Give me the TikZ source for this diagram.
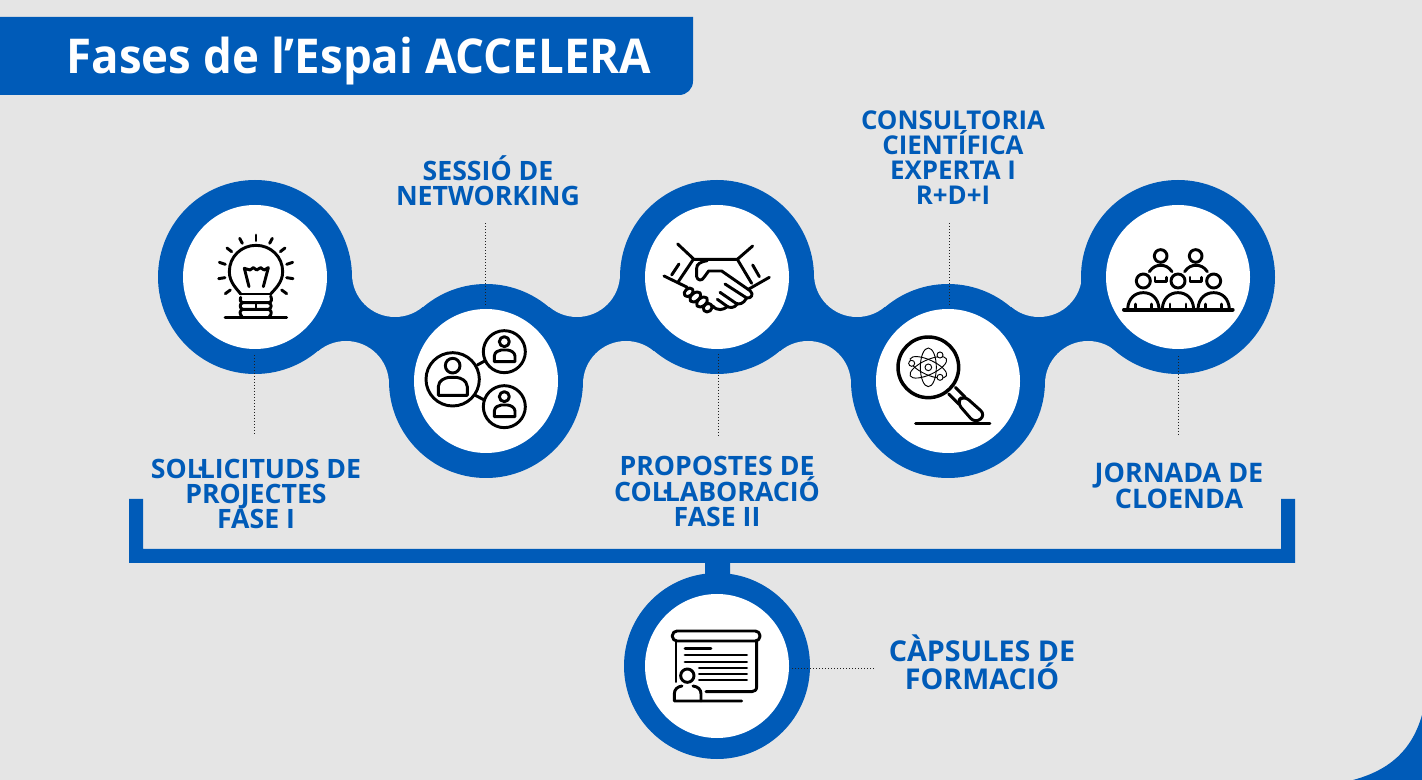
\documentclass[tikz,border=0pt]{standalone}
\usepackage{fontspec}
\setmainfont{Open Sans}
\newfontfamily\titlefont[FakeStretch=0.95]{Open Sans}
\newcommand{\ldot}{\kern-.18em·\kern-.18em}
\definecolor{brand}{HTML}{005BB8}
\definecolor{pagegray}{HTML}{E5E5E5}
\definecolor{dotgray}{HTML}{202020}
\tikzset{
  px/.style={x=0.75pt,y=-0.75pt},
  disc/.style={circle,fill=brand,inner sep=0pt,minimum size=145.5pt},
  smalldisc/.style={circle,fill=brand,inner sep=0pt,minimum size=139.5pt},
  hole/.style={circle,fill=white,inner sep=0pt,minimum size=108pt},
  notch/.style={circle,fill=pagegray,inner sep=0pt,minimum size=64.5pt},
  label/.style={text=brand,align=center,inner sep=0pt,font=\fontsize{#1}{18.75}\selectfont\bfseries},
  dotline/.style={draw=dotgray,line width=0.75pt,dash pattern=on 0.75pt off 1.5pt},
  zoomed/.style={x=0.25pt,y=-0.25pt},
  ic/.style={draw=black,line width=2.2pt,line cap=round,line join=round},
  icthin/.style={draw=black,line width=0.7pt},
}
\begin{document}
\begin{tikzpicture}[px]
\useasboundingbox (0,0) rectangle (1422,780);
\fill[pagegray] (0,0) rectangle (1422,780);
% corner
\fill[brand] (1353,780) .. controls (1390,770) and (1412,750) .. (1422,715) -- (1422,780) -- cycle;
% banner
\fill[brand] (0,17) -- (693,17) -- (693,81) .. controls (693,89) and (687,95) .. (679,95) -- (0,95) -- cycle;
\node[anchor=base,text=white,inner sep=0pt,font=\titlefont\fontsize{36}{40}\selectfont\bfseries] (title) at (359,74) {Fases de l’Espai ACCELERA};
% centres
\coordinate (p1) at (255,277);
\coordinate (p2) at (486,381);
\coordinate (p3) at (717,277);
\coordinate (p4) at (948,381);
\coordinate (p5) at (1178,277);
\coordinate (n1) at (395,274); \coordinate (m1) at (346,384);
\coordinate (n2) at (577,274); \coordinate (m2) at (626,384);
\coordinate (n3) at (857,274); \coordinate (m3) at (808,384);
\coordinate (n4) at (1039,274); \coordinate (m4) at (1088,384);
% necks
\fill[brand] (p1) -- (n1) -- (p2) -- (m1) -- cycle;
\fill[brand] (p2) -- (n2) -- (p3) -- (m2) -- cycle;
\fill[brand] (p3) -- (n3) -- (p4) -- (m3) -- cycle;
\fill[brand] (p4) -- (n4) -- (p5) -- (m4) -- cycle;
\foreach \q in {n1,m1,n2,m2,n3,m3,n4,m4} \node[notch] at (\q) {};
% bracket
\fill[brand] (129,499) -- (143,499) -- (143,549) -- (1281,549) -- (1281,499) -- (1295,499) -- (1295,563) -- (730,563) -- (730,580) -- (705,580) -- (705,563) -- (129,563) -- cycle;
% discs
\node[disc] (d1) at (p1) {};
\node[disc] (d2) at (p2) {};
\node[disc] (d3) at (p3) {};
\node[disc] (d4) at (p4) {};
\node[disc] (d5) at (p5) {};
\node[smalldisc] (d6) at (717,666) {};
\node[hole] (h1) at (p1) {};
\node[hole] (h2) at (p2) {};
\node[hole] (h3) at (p3) {};
\node[hole] (h4) at (p4) {};
\node[hole] (h5) at (p5) {};
\node[hole] (h6) at (717,666) {};
% labels
\node[label=20] (l1) at (256,494) {SOL\ldot LICITUDS DE\\PROJECTES\\FASE I};
\node[label=20] (l2) at (488,181) {SESSIÓ DE\\NETWORKING};
\node[label=20] (l3) at (717,491.5) {PROPOSTES DE\\COL\ldot LABORACIÓ\\FASE II};
\node[label=19.4] (l4) at (953,158) {CONSULTORIA\\CIENTÍFICA\\EXPERTA I\\R+D+I};
\node[label=20.2] (l5) at (1179,486) {JORNADA DE\\CLOENDA};
\node[label=21.5,font=\fontsize{21.5}{19.5}\selectfont\bfseries] (l6) at (982,662) {CÀPSULES DE\\FORMACIÓ};
% dotted leaders
\coordinate (a1) at (254.5,355); \coordinate (b1) at (254.5,436);
\coordinate (a2) at (485.5,305); \coordinate (b2) at (485.5,223);
\coordinate (a3) at (718,354); \coordinate (b3) at (718,436);
\coordinate (a4) at (949.5,305); \coordinate (b4) at (949.5,223);
\coordinate (a5) at (1178,356); \coordinate (b5) at (1178,437);
\coordinate (a6) at (792,668); \coordinate (b6) at (874,668);
\foreach \i in {1,...,6} \draw[dotline] (a\i) -- (b\i);
% bulb
\begin{scope}[shift={(150,170)},zoomed]
\draw[ic] (272,372) .. controls (262,358) and (238,338) .. (238,305) .. controls (238,260) and (274,226) .. (318,226) .. controls (362,226) and (398,260) .. (398,305) .. controls (398,338) and (374,358) .. (362,372);
\draw[ic] (272,372) -- (362,372);
\draw[ic] (272,382) .. controls (270,392) and (270,396) .. (278,398) -- (356,398) .. controls (366,396) and (366,388) .. (362,378);
\draw[ic] (278,398) .. controls (268,402) and (268,414) .. (278,418) -- (356,418) .. controls (366,414) and (366,402) .. (356,398);
\draw[ic] (278,418) .. controls (268,422) and (268,432) .. (276,440);
\draw[ic] (356,418) .. controls (366,422) and (366,432) .. (358,440);
\draw[ic] (318,398) -- (318,418);
\draw[ic] (225,443) -- (410,443);
\draw[ic] (297,350) -- (283,295) -- (300,300) -- (310,293) -- (320,300) -- (332,293) -- (342,300) -- (355,293) -- (340,350);
\draw[ic] (318,195) -- (318,212);
\draw[ic] (269,205) -- (277,220);
\draw[ic] (367,205) -- (359,220);
\draw[ic] (231,234) -- (245,245);
\draw[ic] (405,234) -- (391,245);
\draw[ic] (208,277) -- (226,283);
\draw[ic] (428,277) -- (410,283);
\draw[ic] (206,326) -- (225,323);
\draw[ic] (429,326) -- (410,323);
\draw[ic] (226,371) -- (241,360);
\draw[ic] (410,371) -- (395,360);
\end{scope}
% network
\begin{scope}[shift={(150,170)},zoomed]
\draw[ic] (908,628) circle (80);
\draw[ic] (1063,545) circle (63);
\draw[ic] (1063,710) circle (63);
\draw[ic] (982,585) -- (1004,573);
\draw[ic] (976,676) -- (1003,690);
\draw[ic] (908,587) circle (22);
\draw[ic] (865,676) -- (865,650) .. controls (866,630) and (885,624) .. (897,622) -- (919,622) .. controls (932,624) and (950,630) .. (952,650) -- (952,676) -- cycle;
\draw[ic] (1063,515) circle (15);
\draw[ic] (1033,575) -- (1033,558) .. controls (1034,546) and (1045,541) .. (1054,540) -- (1072,540) .. controls (1081,541) and (1094,546) .. (1095,558) -- (1095,575) -- cycle;
\draw[ic] (1063,680) circle (15);
\draw[ic] (1033,740) -- (1033,723) .. controls (1034,711) and (1045,706) .. (1054,705) -- (1072,705) .. controls (1081,706) and (1094,711) .. (1095,723) -- (1095,740) -- cycle;
\end{scope}
% handshake
\begin{scope}[shift={(610,170)},zoomed]
\draw[ic] (203,222) -- (252,268) -- (382,268) -- (428,228);
\draw[ic] (250,268) -- (205,335);
\draw[ic] (162,318) -- (232,352);
\draw[ic] (207,282) -- (185,315);
\draw[ic] (382,268) -- (425,340);
\draw[ic] (478,322) -- (415,358);
\draw[ic] (428,285) -- (448,320);
\draw[ic] (292,272) .. controls (270,276) and (260,282) .. (260,295) -- (260,320) .. controls (262,332) and (276,334) .. (282,322) -- (296,303) -- (335,303) -- (420,362) .. controls (432,372) and (425,386) .. (410,384) -- (345,342);
\draw[ic] (410,384) .. controls (400,402) and (388,404) .. (378,400) -- (330,367);
\draw[ic] (382,402) .. controls (372,416) and (358,414) .. (350,408) -- (322,388);
\draw[ic] (352,410) .. controls (340,420) and (322,424) .. (308,408);
\draw[ic] (236,367) ellipse [x radius=15,y radius=11,rotate=40];
\draw[ic] (256,381) ellipse [x radius=19,y radius=12,rotate=40];
\draw[ic] (276,396) ellipse [x radius=19,y radius=12,rotate=40];
\draw[ic] (293,413) ellipse [x radius=14,y radius=12,rotate=40];
\end{scope}
% magnifier
\begin{scope}[shift={(610,170)},zoomed]
\draw[draw=black,line width=2.6pt] (955,592) circle (91);
\draw[icthin] (955,592) circle (10);
\draw[icthin,rotate around={25:(955,592)}] (955,592) ellipse [x radius=60,y radius=22];
\draw[icthin,rotate around={-25:(955,592)}] (955,592) ellipse [x radius=60,y radius=22];
\draw[icthin,rotate around={90:(955,592)}] (955,592) ellipse [x radius=58,y radius=24];
\draw[icthin,fill=white] (905,580) circle (9);
\draw[icthin,fill=white] (990,555) circle (9);
\draw[icthin,fill=white] (990,622) circle (9);
\draw[ic] (1016,672) -- (1046,702);
\draw[ic] (1036,652) -- (1066,682);
\draw[ic,rounded corners=5pt] (1040,697) -- (1061,676) -- (1127,735) -- (1095,760) -- cycle;
\draw[ic] (917,760) -- (1140,760);
\end{scope}
% audience
\begin{scope}[shift={(1060,170)},zoomed]
\draw[ic] (302,258) circle (19);
\draw[ic] (407,258) circle (19);
\draw[ic] (268,305) .. controls (278,290) and (290,286) .. (302,286) .. controls (314,286) and (326,290) .. (336,305);
\draw[ic] (374,305) .. controls (384,290) and (396,286) .. (408,286) .. controls (420,286) and (432,290) .. (442,305);
\draw[ic] (285,322) -- (285,335) -- (320,335) -- (320,322);
\draw[ic] (390,322) -- (390,335) -- (425,335) -- (425,322);
\draw[ic] (250,333) circle (21);
\draw[ic] (354,333) circle (21);
\draw[ic] (461,333) circle (21);
\foreach \c in {250,354,461} {
  \draw[ic] (\c-47,416) .. controls (\c-45,385) and (\c-25,368) .. (\c,368) .. controls (\c+25,368) and (\c+45,385) .. (\c+47,416);
  \draw[ic] (\c-24,402) -- (\c-24,416);
  \draw[ic] (\c+24,402) -- (\c+24,416);
}
\draw[draw=black,line width=3pt,line cap=round] (192,419) -- (518,419);
\end{scope}
% presentation
\begin{scope}[shift={(620,560)},zoomed]
\draw[ic,rounded corners=3.5pt] (157,213) rectangle (420,243);
\draw[ic] (168,243) -- (168,365);
\draw[ic] (410,243) -- (410,380) .. controls (410,390) and (404,395) .. (395,395) -- (258,395);
\draw[ic] (195,266) -- (273,266);
\draw[ic] (195,285) -- (380,285);
\draw[ic] (195,306) -- (380,306);
\draw[ic] (238,324) -- (380,324);
\draw[ic] (238,342) -- (380,342);
\draw[ic] (238,360) -- (380,360);
\draw[ic] (202,347) circle (20);
\draw[ic] (186,378) .. controls (172,380) and (163,388) .. (163,402) -- (163,423) -- (365,423);
\draw[ic] (219,378) .. controls (234,380) and (243,388) .. (243,402) -- (243,423);
\end{scope}
\end{tikzpicture}
\end{document}
